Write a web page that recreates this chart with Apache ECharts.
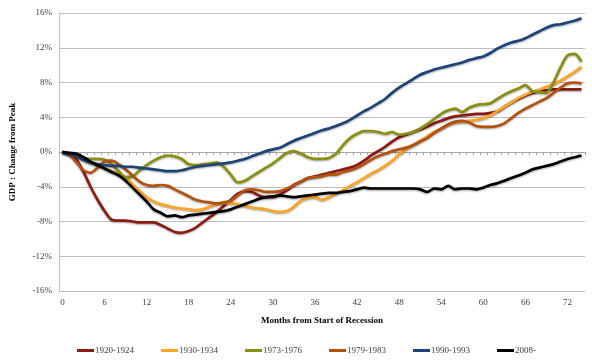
<!DOCTYPE html>
<html>
<head>
<meta charset="utf-8">
<script src="https://cdn.jsdelivr.net/npm/echarts@6/dist/echarts.min.js"></script>
<style>
html,body{margin:0;padding:0;background:#fff;}
#chart{width:592px;height:361px;}
</style>
</head>
<body>
<div id="chart"></div>
<script>
// months from start of recession
var months = [];
for (var i = 0; i <= 74; i++) months.push(String(i));

var yTicks = [-16, -12, -8, -4, 0, 4, 8, 12, 16];

var s1920 = [0,-0.3,-0.9,-2.3,-4.0,-5.5,-6.8,-7.8,-7.9,-7.9,-8.0,-8.1,-8.1,-8.1,-8.4,-8.8,-9.2,-9.3,-9.1,-8.7,
  -8.1,-7.5,-6.9,-6.2,-5.5,-4.8,-4.5,-4.6,-5.0,-5.2,-5.2,-4.9,-4.4,-3.8,-3.4,-3.0,-2.8,-2.6,-2.4,-2.2,
  -2.0,-1.8,-1.5,-1.0,-0.4,0.1,0.6,1.2,1.7,2.0,2.3,2.6,2.9,3.3,3.6,3.9,4.1,4.2,4.3,4.4,
  4.4,4.5,4.7,5.2,5.7,6.1,6.5,6.8,7.0,7.1,7.2,7.2,7.2,7.2,7.2];

var s1930 = [0,-0.2,-0.5,-0.9,-1.2,-1.5,-1.8,-2.2,-2.5,-2.9,-3.7,-4.5,-5.2,-5.7,-6.0,-6.2,-6.4,-6.5,-6.6,-6.7,
  -6.6,-6.3,-6.0,-5.9,-5.9,-6.0,-6.2,-6.4,-6.5,-6.6,-6.8,-6.9,-6.8,-6.3,-5.6,-5.3,-5.2,-5.5,-5.2,-4.8,
  -4.4,-3.9,-3.5,-3.0,-2.5,-2.1,-1.6,-1.0,-0.3,0.3,0.8,1.3,1.8,2.3,2.7,3.1,3.4,3.5,3.6,3.7,
  3.9,4.2,4.7,5.2,5.7,6.2,6.6,6.9,7.2,7.5,7.8,8.2,8.7,9.2,9.8];

var s1973 = [0,-0.2,-0.5,-0.7,-0.8,-0.8,-0.9,-1.4,-2.2,-2.9,-2.8,-2.1,-1.5,-1.0,-0.6,-0.4,-0.5,-0.8,-1.4,-1.5,
  -1.4,-1.3,-1.2,-1.7,-2.6,-3.5,-3.3,-2.8,-2.3,-1.8,-1.3,-0.7,-0.1,0.1,-0.2,-0.6,-0.8,-0.8,-0.7,-0.2,
  0.8,1.6,2.1,2.4,2.4,2.3,2.1,2.3,2.0,2.1,2.3,2.7,3.2,3.8,4.4,4.8,5.0,4.6,5.1,5.4,
  5.5,5.6,6.1,6.6,7.0,7.3,7.7,7.0,6.9,6.8,8.0,9.7,11.1,11.3,10.4];

var s1979 = [0,-0.3,-1.2,-2.1,-2.4,-1.8,-1.1,-1.0,-1.4,-2.0,-2.7,-3.4,-3.8,-3.9,-3.8,-3.9,-4.3,-4.7,-5.1,-5.5,
  -5.7,-5.8,-5.9,-5.8,-5.6,-5.0,-4.4,-4.3,-4.4,-4.6,-4.6,-4.5,-4.2,-3.8,-3.4,-3.0,-2.9,-2.8,-2.6,-2.6,
  -2.3,-2.1,-1.8,-1.4,-0.9,-0.5,-0.2,0.1,0.3,0.5,0.8,1.2,1.6,2.2,2.7,3.2,3.5,3.6,3.4,3.0,
  2.9,2.9,3.0,3.3,3.9,4.5,5.0,5.4,5.8,6.2,6.8,7.4,7.9,8.0,7.9];

var s1990 = [0,-0.2,-0.5,-0.9,-1.2,-1.4,-1.5,-1.6,-1.6,-1.7,-1.7,-1.8,-1.9,-2.0,-2.1,-2.2,-2.2,-2.1,-1.9,-1.7,
  -1.6,-1.5,-1.4,-1.3,-1.2,-1.0,-0.8,-0.5,-0.2,0.1,0.3,0.5,0.9,1.3,1.6,1.9,2.2,2.5,2.7,3.0,
  3.3,3.7,4.2,4.7,5.1,5.6,6.1,6.8,7.4,7.9,8.4,8.9,9.2,9.5,9.7,9.9,10.1,10.3,10.6,10.8,
  11.0,11.4,11.9,12.3,12.6,12.8,13.1,13.5,13.9,14.3,14.6,14.7,14.9,15.1,15.4];

var s2008 = [0,-0.1,-0.2,-0.6,-1.1,-1.5,-1.9,-2.3,-2.7,-3.3,-4.1,-4.9,-5.7,-6.6,-7.0,-7.4,-7.3,-7.5,-7.3,-7.2,
  -7.1,-7.0,-6.9,-6.8,-6.6,-6.3,-6.0,-5.7,-5.4,-5.2,-5.1,-5.0,-5.1,-5.2,-5.1,-5.0,-4.9,-4.8,-4.7,-4.7,
  -4.6,-4.5,-4.3,-4.1,-4.2,-4.2,-4.2,-4.2,-4.2,-4.2,-4.2,-4.3,-4.6,-4.2,-4.3,-3.9,-4.3,-4.2,-4.2,-4.3,
  -4.1,-3.8,-3.6,-3.3,-3.0,-2.7,-2.4,-2.0,-1.8,-1.6,-1.4,-1.1,-0.8,-0.6,-0.4];

var seriesNames = ['1920-1924','1930-1934','1973-1976','1979-1983','1990-1993','2008-'];
var seriesData = [s1920, s1930, s1973, s1979, s1990, s2008];
var seriesColors = ['#8B1C14','#FFA424','#8A8F12','#B5500F','#1B4479','#000000'];

var FONT = 'Liberation Serif';

var chart = echarts.init(document.getElementById('chart'), null, {renderer: 'canvas'});

var series = seriesNames.map(function (name, k) {
  return {
    name: name,
    type: 'line',
    xAxisIndex: 0,
    yAxisIndex: 0,
    data: seriesData[k],
    smooth: 0.3,
    symbol: 'none',
    showSymbol: false,
    animation: false,
    lineStyle: {
      color: seriesColors[k],
      width: 2.7,
      shadowColor: 'rgba(0,0,0,0.35)',
      shadowBlur: 2,
      shadowOffsetY: 1
    },
    itemStyle: { color: seriesColors[k] },
    z: 2 + k
  };
});

chart.setOption({
  animation: false,
  backgroundColor: '#ffffff',
  grid: { left: 55, right: 7, top: 13, bottom: 70, containLabel: false },
  legend: {
    data: seriesNames,
    left: 72,
    top: 341,
    itemWidth: 17,
    itemHeight: 3,
    itemGap: 27,
    icon: 'rect',
    textStyle: { fontFamily: FONT, fontSize: 9, color: '#404040', padding: [0,0,0,-4] }
  },
  xAxis: [
    {
      type: 'category',
      data: months,
      boundaryGap: true,
      position: 'bottom',
      name: 'Months from Start of Recession',
      nameLocation: 'middle',
      nameGap: 25,
      nameTextStyle: { fontFamily: FONT, fontSize: 9, fontWeight: 'bold', color: '#000' },
      axisLine: { onZero: false, lineStyle: { color: '#BFBFBF', width: 1 } },
      axisTick: { show: false },
      axisLabel: {
        interval: 5,
        margin: 7,
        fontFamily: FONT,
        fontSize: 9,
        color: '#404040'
      },
      splitLine: { show: false }
    },
    {
      type: 'category',
      data: months,
      boundaryGap: true,
      position: 'bottom',
      axisLine: { onZero: true, onZeroAxisIndex: 0, lineStyle: { color: '#A6A6A6', width: 1 } },
      axisTick: { show: true, interval: 0, length: 3, lineStyle: { color: '#A6A6A6' } },
      axisLabel: { show: false },
      splitLine: { show: false }
    }
  ],
  yAxis: {
    type: 'value',
    min: yTicks[0],
    max: yTicks[yTicks.length - 1],
    interval: 4,
    name: 'GDP : Change from Peak',
    nameLocation: 'middle',
    nameGap: 42,
    nameRotate: 90,
    nameTextStyle: { fontFamily: FONT, fontSize: 9, fontWeight: 'bold', color: '#000' },
    axisLine: { show: true, lineStyle: { color: '#BFBFBF', width: 1 } },
    axisTick: { show: false },
    axisLabel: {
      formatter: '{value}%',
      margin: 7,
      fontFamily: FONT,
      fontSize: 9,
      color: '#404040'
    },
    splitLine: { show: true, lineStyle: { color: '#BFBFBF', width: 1 } }
  },
  series: series
});
</script>
</body>
</html>
